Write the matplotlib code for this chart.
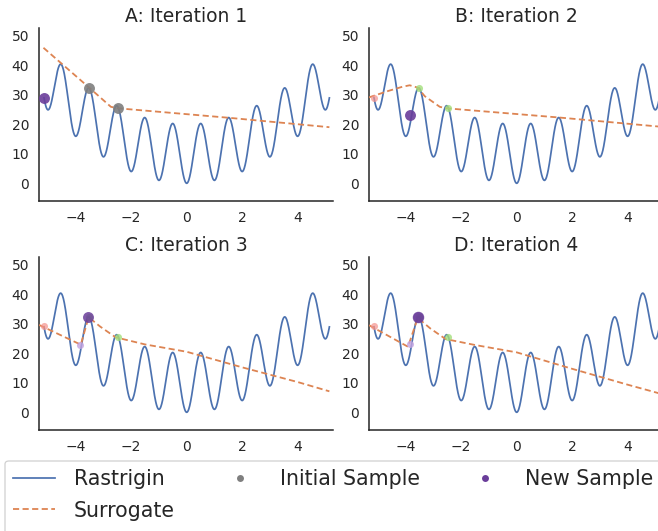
import numpy as np
import matplotlib
matplotlib.use("Agg")
import matplotlib.pyplot as plt
from matplotlib.lines import Line2D
from matplotlib.patches import FancyBboxPatch

# ---------------- data ----------------
titles = ["A: Iteration 1", "B: Iteration 2", "C: Iteration 3", "D: Iteration 4"]

# Rastrigin objective (1-D), the named function drawn in every panel
x_lo, x_hi = -5.12, 5.12
def rastrigin(x):
    return 10 + x ** 2 - 10 * np.cos(2 * np.pi * x)

# surrogate curves (knots)
sur_x = [
    [-5.14, -3.50, -2.72, -2.46, 1.5, 5.12],
    [-5.30, -4.60, -4.10, -3.84, -3.55, -3.30, -2.76, -2.52, 1.5, 5.12],
    [-5.30, -3.80, -3.52, -3.10, -2.55, -1.5, 0.0, 2.0, 4.0, 5.12],
    [-5.30, -3.90, -3.55, -3.10, -2.55, -1.5, 0.0, 2.0, 4.0, 5.12],
]
sur_y = [
    [45.9, 32.4, 25.9, 25.4, 22.2, 19.0],
    [29.1, 31.3, 32.7, 33.2, 32.4, 29.5, 25.9, 25.4, 22.3, 19.2],
    [29.6, 22.9, 32.2, 29.0, 25.4, 23.0, 20.5, 15.2, 10.2, 7.1],
    [29.5, 22.2, 32.0, 28.4, 24.8, 22.8, 20.3, 14.7, 9.3, 6.4],
]

# samples
init_x = [-3.52, -2.47]
init_y = [32.3, 25.5]
new_x = [-5.12, -3.82, -3.54, -3.54]
new_y = [28.9, 23.1, 32.2, 32.4]
prev_y_c = [29.2, 22.9]   # earlier new samples as drawn in C/D
prev_y_d = [29.2, 23.2]

# ---------------- style ----------------
plt.rcParams["font.family"] = ["DejaVu Sans"]
dark = "#262626"
blue = "#4C72B0"
orange = "#DD8452"
gray = "#7f7f7f"
purple = "#6a3d9a"
green = "#a3df7c"
salmon = "#f4928c"
lilac = "#c4a3e0"

W, H = 658, 531
fig = plt.figure(figsize=(W / 100, H / 100), dpi=100)

def px_axes(left, top, width, height):
    return fig.add_axes([left / W, 1 - (top + height) / H, width / W, height / H])

ax_w, ax_h = 294, 173
boxes = [(39, 28), (369, 28), (39, 257), (369, 257)]
axes = [px_axes(l, t, ax_w, ax_h) for (l, t) in boxes]

xr = np.linspace(x_lo, x_hi, 1000)
yr = rastrigin(xr)

for i, ax in enumerate(axes):
    ax.plot(xr, yr, color=blue, lw=1.25, zorder=2)
    ax.plot(sur_x[i], sur_y[i], color=orange, lw=1.3, ls=(0, (3.4, 1.9)), zorder=3)

    if i == 0:
        ax.scatter(init_x, init_y, s=62, color=gray, alpha=0.9, zorder=4, linewidths=0)
        ax.scatter([new_x[0]], [new_y[0]], s=62, color=purple, alpha=0.9, zorder=5, linewidths=0)
    elif i == 1:
        ax.scatter(init_x, init_y, s=26, color=green, alpha=0.8, zorder=4, linewidths=0)
        ax.scatter([new_x[0]], [new_y[0]], s=26, color=salmon, alpha=0.7, zorder=4, linewidths=0)
        ax.scatter([new_x[1]], [new_y[1]], s=62, color=purple, alpha=0.9, zorder=5, linewidths=0)
    else:
        py = prev_y_c if i == 2 else prev_y_d
        ax.scatter(init_x, init_y, s=26, color=green, alpha=0.8, zorder=4, linewidths=0)
        ax.scatter([new_x[0]], [py[0]], s=26, color=salmon, alpha=0.7, zorder=4, linewidths=0)
        ax.scatter([new_x[1]], [py[1]], s=26, color=lilac, alpha=0.8, zorder=4, linewidths=0)
        ax.scatter([new_x[2]], [new_y[2]], s=62, color=purple, alpha=0.85, zorder=5, linewidths=0)
        if i == 3:
            ax.scatter([new_x[3]], [new_y[3]], s=70, color=purple, alpha=0.6, zorder=5, linewidths=0)

    ax.set_xlim(-5.30, 5.25)
    ax.set_ylim(-6.0, 52.6)
    ax.set_xticks([-4, -2, 0, 2, 4])
    ax.set_yticks([0, 10, 20, 30, 40, 50])
    ax.tick_params(length=0, labelsize=10, colors=dark, pad=7.0)
    for s in ["top", "right"]:
        ax.spines[s].set_visible(False)
    for s in ["left", "bottom"]:
        ax.spines[s].set_color(dark)
        ax.spines[s].set_linewidth(1.1)
    ax.set_title(titles[i], fontsize=13.5, color=dark, pad=4)
    ax.set_facecolor("white")

# legend frame (extends beyond the figure edge as in the reference)
frame = FancyBboxPatch((5 / W, -20 / H), 680 / W, (531 - 461 + 20) / H,
                       boxstyle="round,pad=0,rounding_size=0.006",
                       transform=fig.transFigure, facecolor="white",
                       edgecolor="#d0d0d0", linewidth=0.9, zorder=0)
fig.patches.append(frame)

handles = [
    Line2D([], [], color=blue, lw=1.25),
    Line2D([], [], color=orange, lw=1.3, ls=(0, (3.4, 1.9))),
    Line2D([], [], color=gray, marker="o", ls="none", markersize=5, markeredgewidth=0),
    Line2D([], [], color=purple, marker="o", ls="none", markersize=5, markeredgewidth=0),
]
labels = ["Rastrigin", "Surrogate", "Initial Sample", "New Sample"]
leg = fig.legend(handles, labels, ncol=3, loc="upper left",
                 bbox_to_anchor=(5 / W, 1 - 461 / H), borderaxespad=0,
                 fontsize=14.8, handlelength=2.05, handletextpad=0.9,
                 columnspacing=2.15, labelspacing=0.55, frameon=False,
                 borderpad=0.4)
for t in leg.get_texts():
    t.set_color(dark)

fig.savefig("out.png", dpi=100, facecolor="white")
